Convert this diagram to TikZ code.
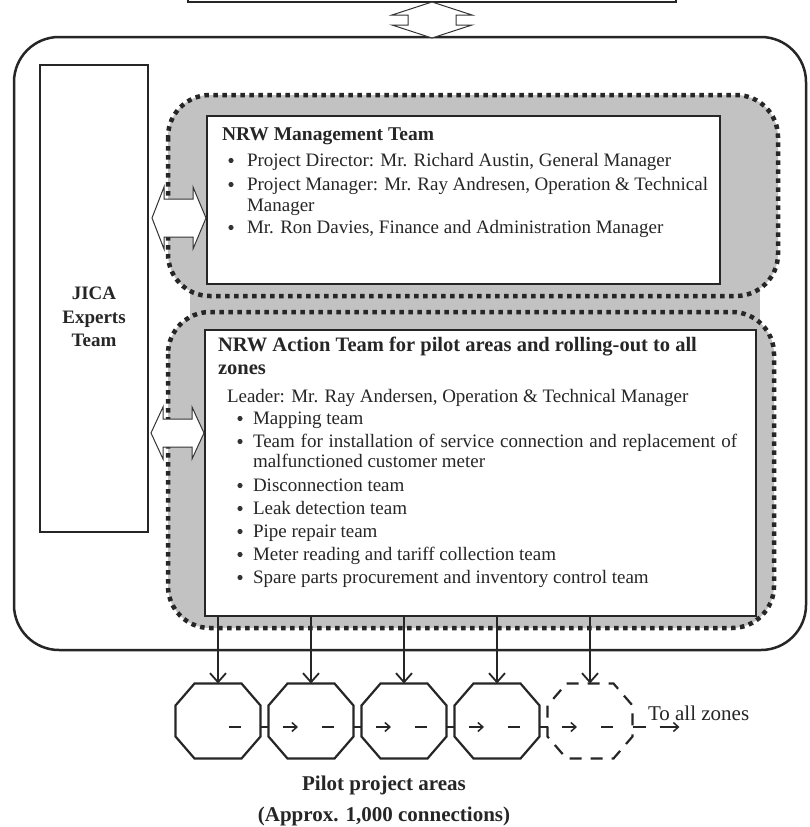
\documentclass[tikz,border=0pt]{standalone}
\usepackage{fontspec}
\setmainfont{Liberation Serif}
\usetikzlibrary{arrows.meta,calc}
\newcommand\octagonnode[3]{%
  \node[minimum width=85pt, minimum height=75pt] (#1) at (#2,721) {};
  \draw[#3] ($(#1.north west)+(19,0)$) -- ($(#1.north east)+(-19,0)$) -- ($(#1.north east)+(0,22)$) -- ($(#1.south east)+(0,-22)$) -- ($(#1.south east)+(-19,0)$) -- ($(#1.south west)+(19,0)$) -- ($(#1.south west)+(0,-22)$) -- ($(#1.north west)+(0,22)$) -- cycle;}
\begin{document}
\begin{tikzpicture}[x=1pt,y=-1pt,
  every node/.style={inner sep=0pt, outer sep=0pt, text=black!85},
  txt/.style={anchor=base west, font=\fontsize{19}{23}\selectfont},
  ttl/.style={anchor=base west, font=\fontsize{19.5}{23}\selectfont\bfseries},
  panel/.style={draw=black!85, line width=1.5pt, fill=white, anchor=north west},
  stip/.style={fill=black!24},
  dotb/.style={draw=black!85, line width=4.5pt, dash pattern=on 4.5pt off 4.5pt, rounded corners=42pt},
  blockarrow/.style={draw=black!80, line width=1pt, fill=white, line join=miter},
  octo/.style={draw=black!85, line width=2.2pt, line join=miter},
  octodash/.style={octo, dash pattern=on 12pt off 9pt},
  downarrow/.style={draw=black!85, line width=1.8pt, -{Straight Barb[length=9pt,width=16pt]}},
  flow/.style={draw=black!85, line width=2pt},
  flowarrow/.style={draw=black!85, line width=1.5pt, -{Straight Barb[length=5pt,width=9pt]}},
  bulletdot/.style={fill=black!80},
]
\useasboundingbox (0,0) rectangle (809,827);
\clip (0,0) rectangle (809,827);
\fill[white] (0,0) rectangle (809,827);

% top box (cut off) and link arrow
\node[draw=black!85, line width=1.5pt, minimum width=488pt, minimum height=30pt, anchor=south] (topbox) at (432,2) {};
\draw[line width=2.5pt, draw=black!85, rounded corners=45pt] (14,37) rectangle (806,650);
\draw[blockarrow] (432,2) -- (472,15) -- (456,15) -- (456,25) -- (472,25) -- (432,38) -- (392,25) -- (408,25) -- (408,15) -- (392,15) -- cycle;

% JICA box
\node[panel, minimum width=108pt, minimum height=467pt] (jicabox) at (40,65) {};
\node[font=\fontsize{19}{23.5}\selectfont\bfseries, align=center] (jica) at (94,317) {JICA\\Experts\\Team};

% stippled dotted regions
\fill[stip, rounded corners=42pt] (168,95) rectangle (778,296);
\fill[stip, rounded corners=42pt] (168,312) rectangle (774,628);
\fill[stip] (190,288) rectangle (760,320);
\draw[dotb] (168,95) rectangle (778,296);
\draw[dotb] (168,312) rectangle (774,628);

% management team box
\node[panel, minimum width=513pt, minimum height=168pt] (mgmt) at (207,116) {};
\node[ttl] (mt) at (222,140) {NRW Management Team};
\node[txt] (m1) at (247,166) {Project Director: Mr. Richard Austin, General Manager};
\node[txt] (m2) at (247,190) {\makebox[461pt][s]{Project Manager: Mr. Ray Andresen, Operation \& Technical}};
\node[txt] (m2b) at (247,211) {Manager};
\node[txt] (m3) at (247,233) {Mr. Ron Davies, Finance and Administration Manager};
\foreach \n in {m1,m2,m3}{
  \fill[bulletdot] ($(\n.base west)+(-16,-5.5)$) circle (2.6pt);
}

% action team box
\node[panel, minimum width=551pt, minimum height=286pt] (action) at (205,330) {};
\node[ttl, font=\fontsize{20.5}{23}\selectfont\bfseries] (at1) at (218,351) {NRW Action Team for pilot areas and rolling-out to all};
\node[ttl, font=\fontsize{20.5}{23}\selectfont\bfseries] (at2) at (218,374) {zones};
\node[txt] (ld) at (227,402) {Leader: Mr. Ray Andersen, Operation \& Technical Manager};
\node[txt] (a1) at (253,424) {Mapping team};
\node[txt] (a2) at (253,447) {\makebox[484pt][s]{Team for installation of service connection and replacement of}};
\node[txt] (a2b) at (253,467) {malfunctioned customer meter};
\node[txt] (a3) at (253,491) {Disconnection team};
\node[txt] (a4) at (253,514) {Leak detection team};
\node[txt] (a5) at (253,537) {Pipe repair team};
\node[txt] (a6) at (253,560) {Meter reading and tariff collection team};
\node[txt] (a7) at (253,583) {Spare parts procurement and inventory control team};
\foreach \n in {a1,a2,a3,a4,a5,a6,a7}{
  \fill[bulletdot] ($(\n.base west)+(-13,-5.5)$) circle (2.6pt);
}

% two-way block arrows to JICA
\draw[blockarrow] (152,218) -- (164,187) -- (164,199) -- (193,199) -- (193,187) -- (206,218) -- (193,249) -- (193,237) -- (164,237) -- (164,249) -- cycle;
\draw[blockarrow] (151,433) -- (163,407) -- (163,419) -- (192,419) -- (192,407) -- (204,433) -- (192,459) -- (192,447) -- (163,447) -- (163,459) -- cycle;

% pilot areas
\octagonnode{o1}{218}{octo}
\octagonnode{o2}{311}{octo}
\octagonnode{o3}{404}{octo}
\octagonnode{o4}{497}{octo}
\octagonnode{o5}{590}{octodash}

\foreach \o in {o1,o2,o3,o4,o5}{
  \draw[downarrow] (\o |- action.south) -- (\o.north);
  \draw[flow] ($(\o.center)+(11,6)$) -- ($(\o.center)+(23,6)$);
}
\foreach \o in {o2,o3,o4,o5}{
  \draw[flowarrow] ($(\o.center)+(-28,6)$) -- ($(\o.center)+(-13,6)$);
}
\draw[flow] ($(o1.east)+(0,6)$) -- ($(o2.west)+(0,6)$);
\draw[flow] ($(o2.east)+(0,6)$) -- ($(o3.west)+(0,6)$);
\draw[flow] ($(o3.east)+(0,6)$) -- ($(o4.west)+(0,6)$);
\draw[flow] ($(o4.east)+(0,6)$) -- ($(o5.west)+(0,6)$);
\draw[flow] ($(o5.east)+(0,6)$) -- ++(13,0);
\draw[flowarrow] ($(o5.east)+(27,6)$) -- ++(20,0);
\node[txt, font=\fontsize{21}{24}\selectfont] (zones) at (648,720) {To all zones};

\node[font=\fontsize{21}{24}\selectfont\bfseries, anchor=base] (pilot) at (384,790) {Pilot project areas};
\node[font=\fontsize{21}{24}\selectfont\bfseries, anchor=base] (approx) at (384,821) {(Approx. 1,000 connections)};
\end{tikzpicture}
\end{document}
